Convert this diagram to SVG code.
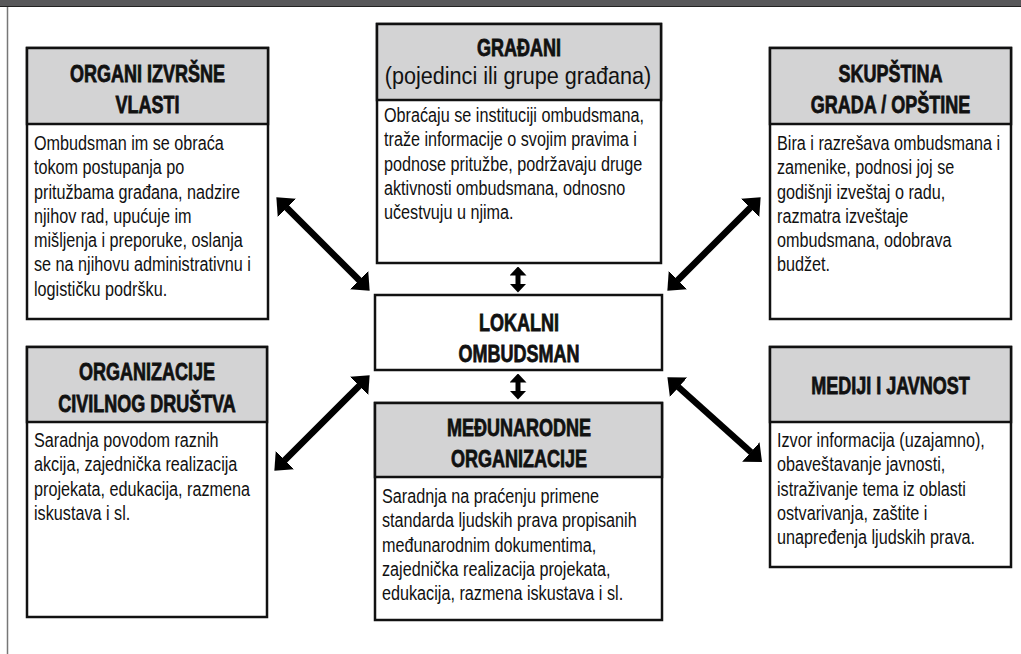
<svg xmlns="http://www.w3.org/2000/svg" width="1021" height="654" viewBox="0 0 1021 654">
<style>
.box{fill:#fff;stroke:#111;stroke-width:2.5}
.hdr{fill:#d3d3d4;stroke:#111;stroke-width:2.5}
.ttl{font-family:"Liberation Sans",Arial,sans-serif;font-weight:bold;font-size:24px;fill:#111;stroke:#111;stroke-width:0.8;text-anchor:middle}
.sub{font-family:"Liberation Sans",Arial,sans-serif;font-size:24px;fill:#111;text-anchor:middle}
.body{font-family:"Liberation Sans",Arial,sans-serif;font-size:20px;fill:#111}
.arr{stroke:#000;stroke-width:6.5;fill:none;marker-start:url(#ah);marker-end:url(#ah)}
.arr2{stroke:#000;stroke-width:5;fill:none;marker-start:url(#ah2);marker-end:url(#ah2)}
</style>
<defs>
<marker id="ah" markerUnits="userSpaceOnUse" viewBox="0 0 15 26" markerWidth="15" markerHeight="26" refX="0.5" refY="13" orient="auto-start-reverse"><path d="M0,0 L15,13 L0,26 z" fill="#000"/></marker>
<marker id="ah2" markerUnits="userSpaceOnUse" viewBox="0 0 9 17" markerWidth="9" markerHeight="17" refX="0.5" refY="8.5" orient="auto-start-reverse"><path d="M0,0 L9,8.5 L0,17 z" fill="#000"/></marker>
</defs>
<rect x="0" y="0" width="1021" height="6" fill="#58585a"/>
<line x1="0" y1="6.5" x2="1021" y2="6.5" stroke="#222" stroke-width="1"/>
<line x1="7.5" y1="7" x2="7.5" y2="654" stroke="#777" stroke-width="1.5"/>

<g id="connectors">
<path class="arr" d="M286.6,207.6 L359.4,280.4"/>
<path class="arr" d="M284.6,460.4 L359.4,385.6"/>
<path class="arr" d="M677.6,280.4 L750.4,207.6"/>
<path class="arr" d="M678.2,386.9 L751.2,452.3"/>
<path class="arr2" d="M518,275 L518,284"/>
<path class="arr2" d="M518,382 L518,391"/>
</g>

<g id="organi-izvrsne-vlasti">
<rect class="box" x="27" y="48" width="241" height="271"/>
<rect class="hdr" x="27" y="48" width="241" height="76"/>
<text class="ttl" transform="translate(147.5 82) scale(0.75 1)">ORGANI IZVRŠNE</text>
<text class="ttl" transform="translate(147.5 113) scale(0.75 1)">VLASTI</text>
<text class="body" transform="translate(34 150) scale(0.81 1)"><tspan x="0" y="0">Ombudsman im se obraća</tspan><tspan x="0" y="24.3">tokom postupanja po</tspan><tspan x="0" y="48.6">pritužbama građana, nadzire</tspan><tspan x="0" y="72.9">njihov rad, upućuje im</tspan><tspan x="0" y="97.2">mišljenja i preporuke, oslanja</tspan><tspan x="0" y="121.5">se na njihovu administrativnu i</tspan><tspan x="0" y="145.8">logističku podršku.</tspan></text>
</g>

<g id="gradjani">
<rect class="box" x="377" y="24" width="284" height="239"/>
<rect class="hdr" x="377" y="24" width="284" height="76"/>
<text class="ttl" transform="translate(519 56) scale(0.75 1)">GRAĐANI</text>
<text class="sub" transform="translate(518 84) scale(0.9 1)">(pojedinci ili grupe građana)</text>
<text class="body" transform="translate(384 122) scale(0.81 1)"><tspan x="0" y="0">Obraćaju se instituciji ombudsmana,</tspan><tspan x="0" y="24.3">traže informacije o svojim pravima i</tspan><tspan x="0" y="48.6">podnose pritužbe, podržavaju druge</tspan><tspan x="0" y="72.9">aktivnosti ombudsmana, odnosno</tspan><tspan x="0" y="97.2">učestvuju u njima.</tspan></text>
</g>

<g id="skupstina">
<rect class="box" x="770" y="48" width="241" height="271"/>
<rect class="hdr" x="770" y="48" width="241" height="76"/>
<text class="ttl" transform="translate(890.5 82) scale(0.75 1)">SKUPŠTINA</text>
<text class="ttl" transform="translate(890.5 113) scale(0.75 1)">GRADA / OPŠTINE</text>
<text class="body" transform="translate(777 150) scale(0.81 1)"><tspan x="0" y="0">Bira i razrešava ombudsmana i</tspan><tspan x="0" y="24.3">zamenike, podnosi joj se</tspan><tspan x="0" y="48.6">godišnji izveštaj o radu,</tspan><tspan x="0" y="72.9">razmatra izveštaje</tspan><tspan x="0" y="97.2">ombudsmana, odobrava</tspan><tspan x="0" y="121.5">budžet.</tspan></text>
</g>

<g id="lokalni-ombudsman">
<rect class="box" x="375" y="295" width="287" height="75"/>
<text class="ttl" transform="translate(519 331) scale(0.75 1)">LOKALNI</text>
<text class="ttl" transform="translate(519 362) scale(0.75 1)">OMBUDSMAN</text>
</g>

<g id="organizacije-civilnog-drustva">
<rect class="box" x="27" y="347" width="240" height="270"/>
<rect class="hdr" x="27" y="347" width="240" height="75"/>
<text class="ttl" transform="translate(147 380) scale(0.75 1)">ORGANIZACIJE</text>
<text class="ttl" transform="translate(147 412) scale(0.75 1)">CIVILNOG DRUŠTVA</text>
<text class="body" transform="translate(34 447) scale(0.81 1)"><tspan x="0" y="0">Saradnja povodom raznih</tspan><tspan x="0" y="24.3">akcija, zajednička realizacija</tspan><tspan x="0" y="48.6">projekata, edukacija, razmena</tspan><tspan x="0" y="72.9">iskustava i sl.</tspan></text>
</g>

<g id="medjunarodne-organizacije">
<rect class="box" x="375" y="403" width="287" height="217"/>
<rect class="hdr" x="375" y="403" width="287" height="74"/>
<text class="ttl" transform="translate(519 436) scale(0.75 1)">MEĐUNARODNE</text>
<text class="ttl" transform="translate(519 467) scale(0.75 1)">ORGANIZACIJE</text>
<text class="body" transform="translate(382 503) scale(0.81 1)"><tspan x="0" y="0">Saradnja na praćenju primene</tspan><tspan x="0" y="24.3">standarda ljudskih prava propisanih</tspan><tspan x="0" y="48.6">međunarodnim dokumentima,</tspan><tspan x="0" y="72.9">zajednička realizacija projekata,</tspan><tspan x="0" y="97.2">edukacija, razmena iskustava i sl.</tspan></text>
</g>

<g id="mediji-i-javnost">
<rect class="box" x="770" y="347" width="241" height="220"/>
<rect class="hdr" x="770" y="347" width="241" height="75"/>
<text class="ttl" transform="translate(890.5 394) scale(0.75 1)">MEDIJI I JAVNOST</text>
<text class="body" transform="translate(777 447) scale(0.81 1)"><tspan x="0" y="0">Izvor informacija (uzajamno),</tspan><tspan x="0" y="24.3">obaveštavanje javnosti,</tspan><tspan x="0" y="48.6">istraživanje tema iz oblasti</tspan><tspan x="0" y="72.9">ostvarivanja, zaštite i</tspan><tspan x="0" y="97.2">unapređenja ljudskih prava.</tspan></text>
</g>
</svg>
